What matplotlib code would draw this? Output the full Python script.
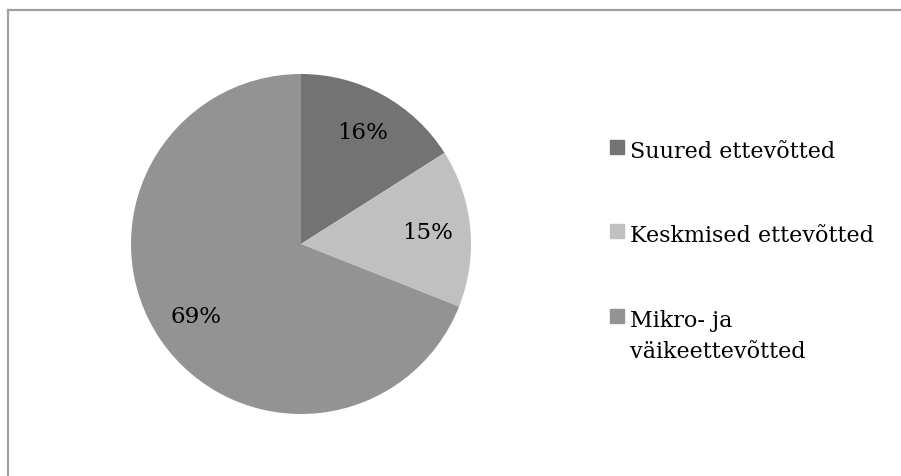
import matplotlib.pyplot as plt
from matplotlib.lines import Line2D
from matplotlib.patches import Rectangle

# data
categories = ['Suured ettevõtted', 'Keskmised ettevõtted', 'Mikro- ja\nväikeettevõtted']
shares = [16, 15, 69]
colors = ['#737373', '#c0c0c0', '#939393']

W, H = 901, 477
fig = plt.figure(figsize=(W / 100, H / 100), dpi=100)
font = 'DejaVu Serif'

# pie: centre (301,245) px, radius 170 px
r = 170
cx, cy = 301, 245
ax = fig.add_axes([(cx - r) / W, (H - cy - r) / H, 2 * r / W, 2 * r / H])
wedges, texts, pcts = ax.pie(shares, colors=colors, startangle=90, counterclock=False,
                             autopct='%d%%', pctdistance=0.75,
                             wedgeprops=dict(linewidth=0),
                             textprops=dict(fontsize=16.5, family=font, color='black'))
ax.set_xlim(-1, 1)
ax.set_ylim(-1, 1)
ax.set_aspect('equal')
ax.axis('off')

# outer frame (only top and left visible)
fc = '#a0a0a0'
fig.add_artist(Line2D([7.5 / W, 1], [1 - 10.5 / H] * 2, color=fc, lw=1.6, transform=fig.transFigure))
fig.add_artist(Line2D([7.5 / W] * 2, [0, 1 - 10.5 / H], color=fc, lw=1.6, transform=fig.transFigure))

# legend drawn by hand, baselines in px
baselines = [158, 242, 327]
for lab, col, yb in zip(categories, colors, baselines):
    fig.add_artist(Rectangle((610 / W, 1 - (yb - 3) / H), 14 / W, 14 / H,
                             color=col, transform=fig.transFigure))
    for i, line in enumerate(lab.split('\n')):
        fig.text(630 / W, 1 - (yb + 31 * i) / H, line, fontsize=16, family=font,
                 va='baseline', ha='left')

fig.savefig('out.png', dpi=100)
